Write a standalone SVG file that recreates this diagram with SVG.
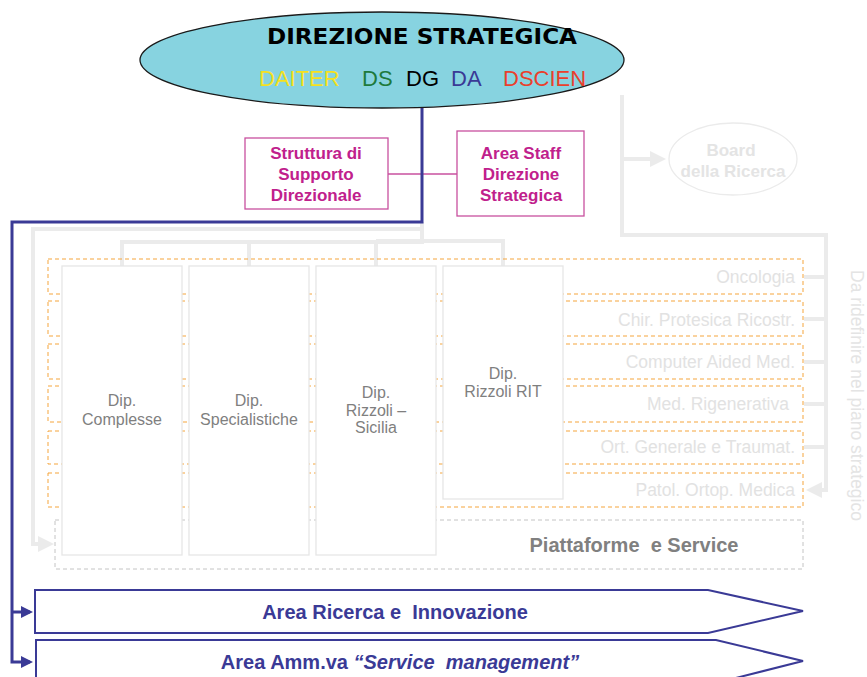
<svg xmlns="http://www.w3.org/2000/svg" width="867" height="677" viewBox="0 0 867 677">
<style>
.t{font-family:"Liberation Sans",Arial,sans-serif;white-space:pre}
.mag{fill:#c0208c;font-weight:bold;font-size:17px;text-anchor:middle}
.magbox{fill:#fff;stroke:#c8509f;stroke-width:1.3}
.row{fill:none;stroke:#f5a53c;stroke-width:1;stroke-dasharray:4,3}
.rowtxt{fill:#e2e2e2;font-size:17.5px;text-anchor:end}
.col{fill:#fff;stroke:#e6e6e6;stroke-width:1.3}
.dip{fill:#7f7f7f;font-size:16px;text-anchor:middle}
.gl{fill:none;stroke:#ebebeb;stroke-width:4}
.bl{fill:none;stroke:#3a3a96;stroke-width:3}
.arr{fill:#fff;stroke:#3a3a96;stroke-width:2}
.area{fill:#3a3a96;font-weight:bold;font-size:20px;text-anchor:middle}
</style>
<defs>
<marker id="ab" markerWidth="4" markerHeight="4" refX="3" refY="2" orient="auto" markerUnits="strokeWidth"><path d="M0,0 L4,2 L0,4 z" fill="#3a3a96"/></marker>
<marker id="ag" markerWidth="4" markerHeight="4" refX="3" refY="2" orient="auto" markerUnits="strokeWidth"><path d="M0,0 L4,2 L0,4 z" fill="#ebebeb"/></marker>
</defs>

<g id="connectors">
  <path class="gl" d="M622,95 V235 H826 V490 H810" marker-end="url(#ag)"/>
  <path class="gl" d="M622,159 H662" marker-end="url(#ag)"/>
  <path class="gl" d="M804,277 H826 M804,319 H826 M804,362 H826 M804,404 H826 M804,447 H826"/>
  <path class="gl" d="M422,222 V229 H33 V544 H50" marker-end="url(#ag)"/>
  <path class="gl" d="M422,229 V242 H122 V266 M249,242 V266 M376,242 V266 M376,241 H503 V266"/>
  <path d="M388,174 H457" stroke="#c8509f" stroke-width="1.3" fill="none"/>
  <path class="bl" d="M422,105 V222 H12 V662 H30" marker-end="url(#ab)"/>
  <path class="bl" d="M12,612 H30" marker-end="url(#ab)"/>
</g>

<g id="rows">
  <rect class="row" x="48" y="259" width="755" height="35"/>
  <rect class="row" x="48" y="301" width="755" height="35"/>
  <rect class="row" x="48" y="344" width="755" height="35"/>
  <rect class="row" x="48" y="386" width="755" height="36"/>
  <rect class="row" x="48" y="431" width="755" height="33"/>
  <rect class="row" x="48" y="473" width="755" height="34"/>
  <rect x="55" y="520" width="748" height="49" fill="none" stroke="#c4c4c4" stroke-width="1" stroke-dasharray="4,3"/>
  <text class="t rowtxt" x="795" y="283">Oncologia</text>
  <text class="t rowtxt" x="795" y="326">Chir. Protesica Ricostr.</text>
  <text class="t rowtxt" x="795" y="368">Computer Aided Med.</text>
  <text class="t rowtxt" x="789" y="410">Med. Rigenerativa</text>
  <text class="t rowtxt" x="795" y="453">Ort. Generale e Traumat.</text>
  <text class="t rowtxt" x="795" y="496">Patol. Ortop. Medica</text>
  <text class="t" x="634" y="552" fill="#808080" font-weight="bold" font-size="20" text-anchor="middle">Piattaforme  e Service</text>
</g>

<g id="dip-complesse">
  <rect class="col" x="62" y="266" width="120" height="289"/>
  <text class="t dip" x="122" y="406">Dip.</text>
  <text class="t dip" x="122" y="425">Complesse</text>
</g>
<g id="dip-specialistiche">
  <rect class="col" x="189" y="266" width="120" height="289"/>
  <text class="t dip" x="249" y="406">Dip.</text>
  <text class="t dip" x="249" y="425">Specialistiche</text>
</g>
<g id="dip-sicilia">
  <rect class="col" x="316" y="266" width="120" height="289"/>
  <text class="t dip" x="376" y="398">Dip.</text>
  <text class="t dip" x="376" y="416">Rizzoli –</text>
  <text class="t dip" x="376" y="433">Sicilia</text>
</g>
<g id="dip-rit">
  <rect class="col" x="443" y="266" width="120" height="233"/>
  <text class="t dip" x="503" y="379">Dip.</text>
  <text class="t dip" x="503" y="397">Rizzoli RIT</text>
</g>

<g id="direzione">
  <ellipse cx="382" cy="60" rx="242" ry="48" fill="#87d3e0" stroke="#1a1a1a" stroke-width="1.3"/>
  <text x="267" y="44" font-family="'DejaVu Sans',Verdana,sans-serif" font-weight="bold" font-size="21" textLength="310" lengthAdjust="spacingAndGlyphs" fill="#000">DIREZIONE STRATEGICA</text>
  <g class="t" font-size="22">
    <text x="259" y="86" fill="#f5e11e">DAITER</text>
    <text x="362" y="86" fill="#1e7a3c">DS</text>
    <text x="406" y="86" fill="#000">DG</text>
    <text x="451" y="86" fill="#3a3a96">DA</text>
    <text x="503" y="86" fill="#ea3f2c">DSCIEN</text>
  </g>
</g>

<g id="struttura">
  <rect class="magbox" x="245" y="138" width="143" height="71"/>
  <text class="t mag" x="316" y="159">Struttura di</text>
  <text class="t mag" x="316" y="180">Supporto</text>
  <text class="t mag" x="316" y="201">Direzionale</text>
</g>
<g id="area-staff">
  <rect class="magbox" x="457" y="131" width="127" height="85"/>
  <text class="t mag" x="521" y="159">Area Staff</text>
  <text class="t mag" x="521" y="180">Direzione</text>
  <text class="t mag" x="521" y="201">Strategica</text>
</g>

<g id="board">
  <ellipse cx="733" cy="159" rx="64" ry="36" fill="#fff" stroke="#ebebeb" stroke-width="1.3"/>
  <text class="t" x="731" y="156" fill="#e4e4e4" font-weight="bold" font-size="17" text-anchor="middle">Board</text>
  <text class="t" x="733" y="177" fill="#e4e4e4" font-weight="bold" font-size="17" text-anchor="middle">della Ricerca</text>
</g>

<g id="da-ridefinire">
  <text class="t" transform="translate(851,270) rotate(90)" fill="#e4e4e4" font-size="17.5">Da ridefinire nel piano strategico</text>
</g>

<g id="area-ricerca">
  <path class="arr" d="M35,590 H708 L803,611 L708,633 H35 Z"/>
  <text class="t area" x="395" y="619">Area Ricerca e  Innovazione</text>
</g>
<g id="area-amm">
  <path class="arr" d="M36,640 H716 L803,661 L716,683 H36 Z"/>
  <text class="t area" x="400" y="669">Area Amm.va <tspan font-style="italic">“Service  management”</tspan></text>
</g>
</svg>
